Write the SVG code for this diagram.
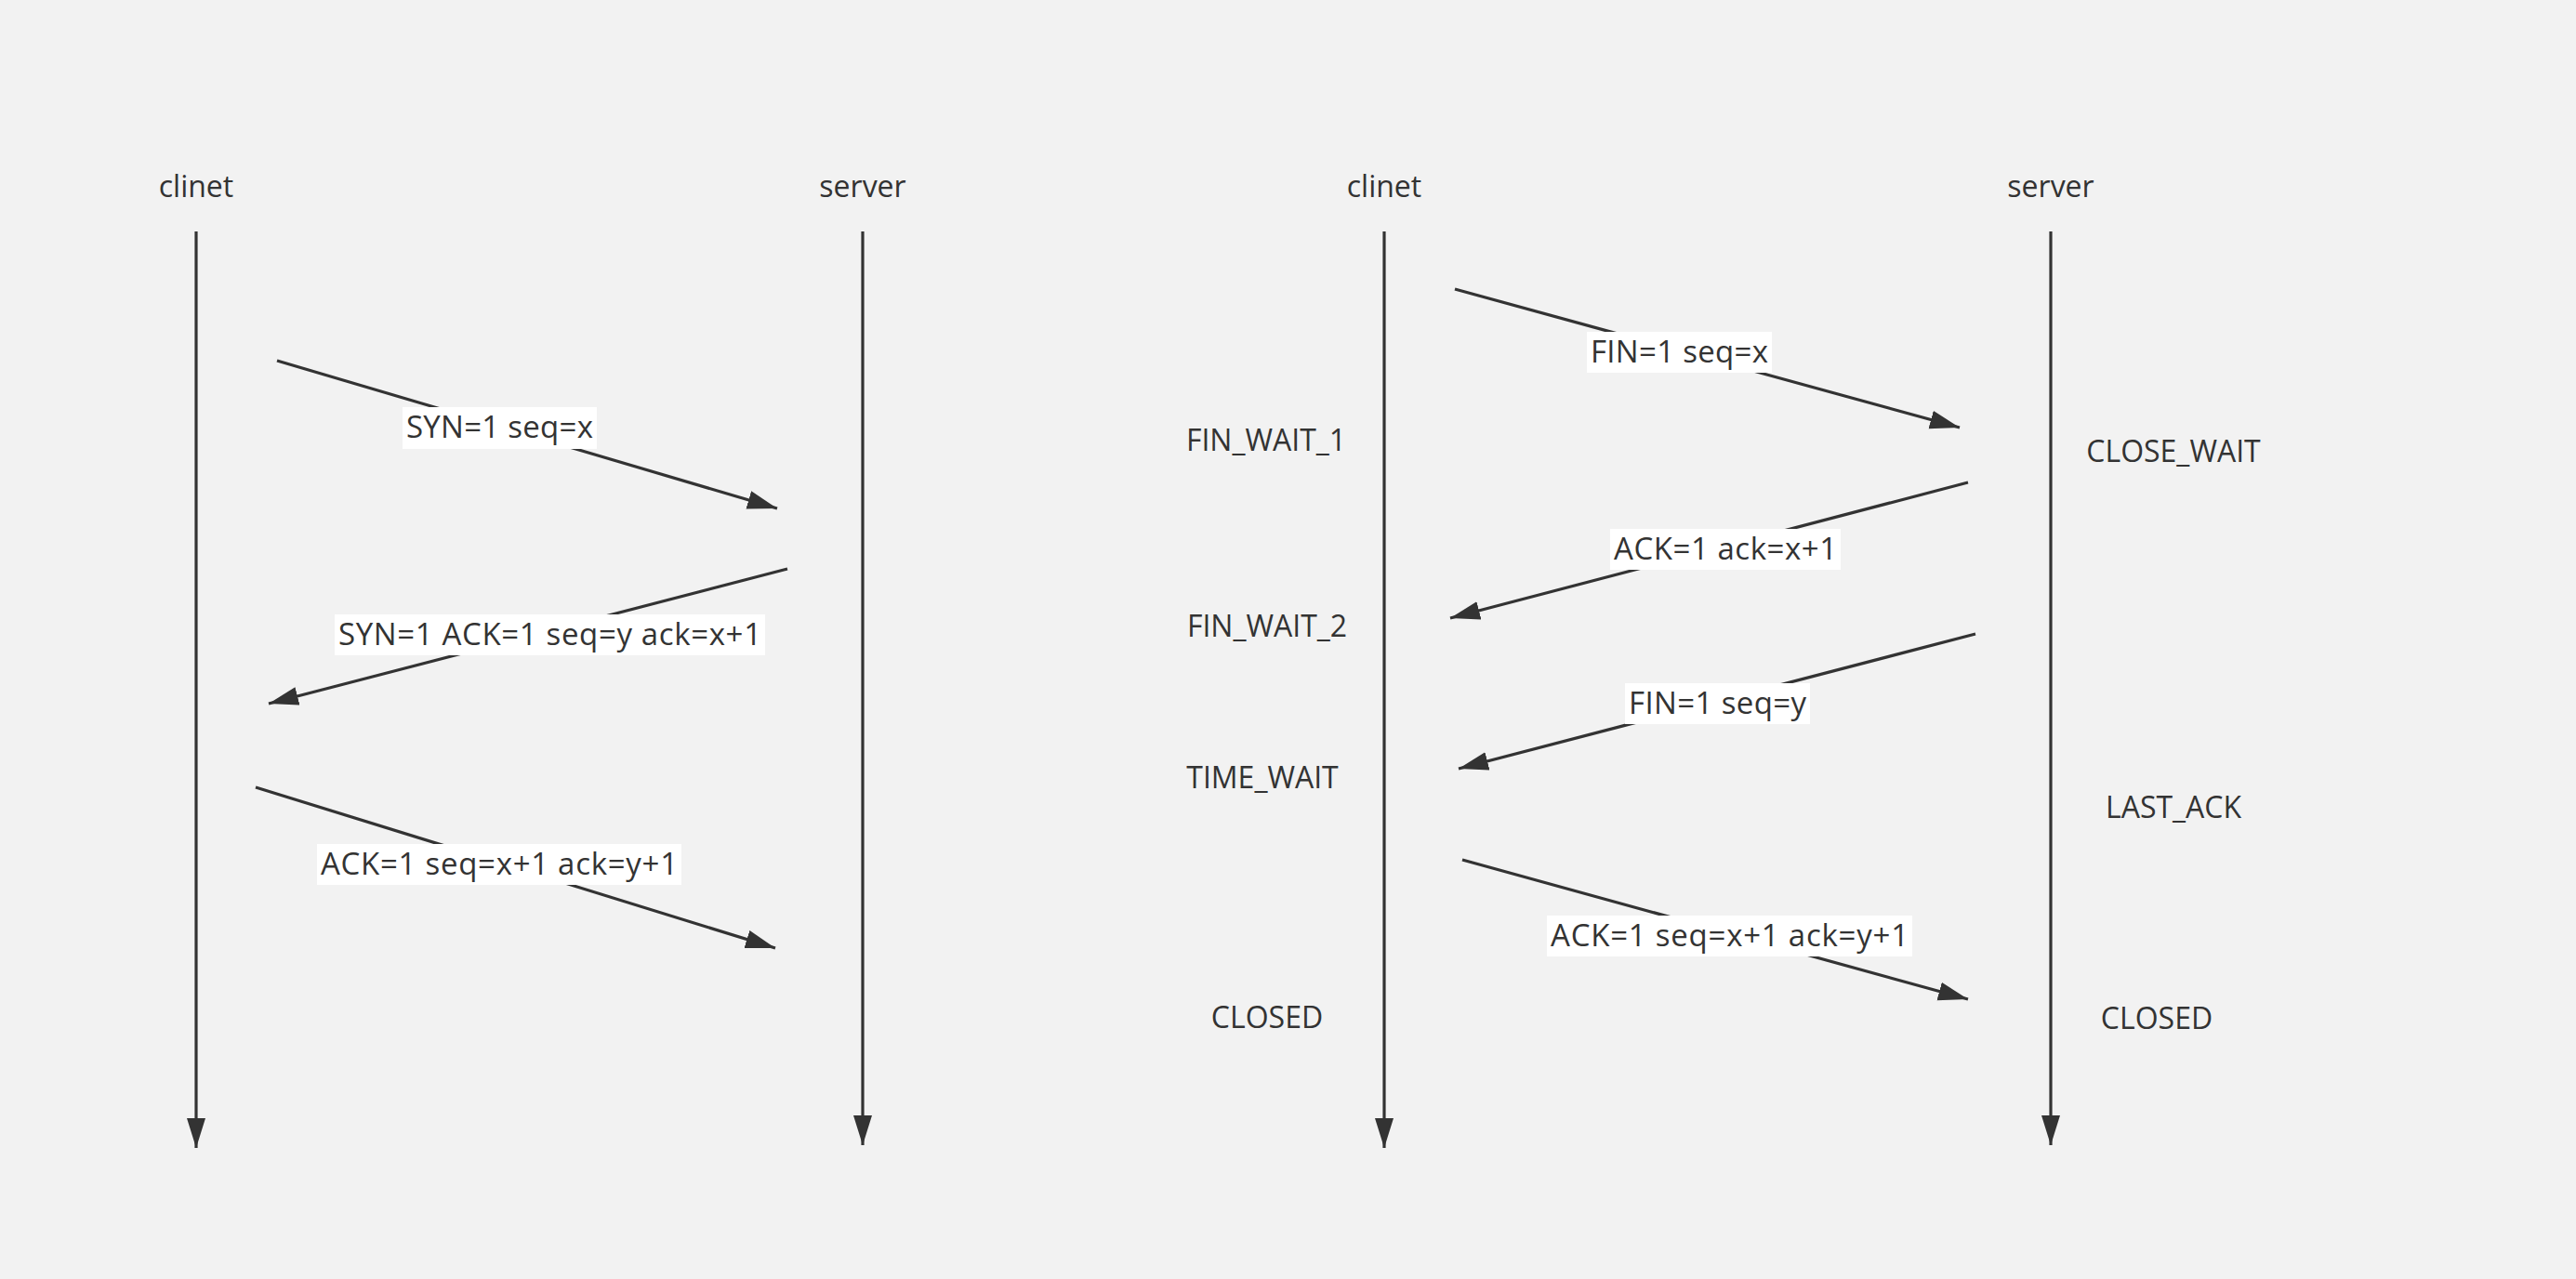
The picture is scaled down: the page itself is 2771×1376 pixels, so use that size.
<svg xmlns="http://www.w3.org/2000/svg" width="2771" height="1376" viewBox="0 0 2771 1376">
  <style>
    .t { font-family: "Open Sans", "Noto Sans", "Liberation Sans", sans-serif; font-size: 32px; fill: #333333; }
    .lt { font-size: 33px; }
    .c { text-anchor: middle; }
    .ln { stroke: #333333; stroke-width: 3.2; fill: none; }
    .lbg { fill: #ffffff; }
  </style>
  <defs>
    <marker id="ah" markerUnits="userSpaceOnUse" markerWidth="34" markerHeight="22" refX="32" refY="10" orient="auto" viewBox="0 0 34 22">
      <path d="M0,0 L32,10 L0,20 z" fill="#333333"/>
    </marker>
  </defs>
  <rect x="0" y="0" width="2771" height="1376" fill="#f2f2f2"/>

  <g id="lifelines">
    <g id="client1"><text class="t c" x="211" y="212">clinet</text><line class="ln" x1="211" y1="249" x2="211" y2="1235" marker-end="url(#ah)"/></g>
    <g id="server1"><text class="t c" x="928" y="212">server</text><line class="ln" x1="928" y1="249" x2="928" y2="1232" marker-end="url(#ah)"/></g>
    <g id="client2"><text class="t c" x="1489" y="212">clinet</text><line class="ln" x1="1489" y1="249" x2="1489" y2="1235" marker-end="url(#ah)"/></g>
    <g id="server2"><text class="t c" x="2206" y="212">server</text><line class="ln" x1="2206" y1="249" x2="2206" y2="1232" marker-end="url(#ah)"/></g>
  </g>

  <g id="states">
    <text class="t c" x="1362" y="485">FIN_WAIT_1</text>
    <text class="t c" x="1363" y="685">FIN_WAIT_2</text>
    <text class="t c" x="1358" y="848">TIME_WAIT</text>
    <text class="t c" x="1363" y="1106">CLOSED</text>
    <text class="t c" x="2338" y="497">CLOSE_WAIT</text>
    <text class="t c" x="2338" y="880">LAST_ACK</text>
    <text class="t c" x="2320" y="1107">CLOSED</text>
  </g>

  <g id="connectors">
    <g id="m1"><line class="ln" x1="298" y1="388" x2="836" y2="547" marker-end="url(#ah)"/>
      <rect class="lbg" x="433" y="438" width="209" height="45"/><text class="t lt c" x="537.5" y="471" textLength="201" lengthAdjust="spacing">SYN=1 seq=x</text></g>
    <g id="m2"><line class="ln" x1="847" y1="612" x2="289" y2="757" marker-end="url(#ah)"/>
      <rect class="lbg" x="360" y="661" width="463" height="44"/><text class="t lt c" x="591.5" y="694" textLength="455" lengthAdjust="spacing">SYN=1 ACK=1 seq=y ack=x+1</text></g>
    <g id="m3"><line class="ln" x1="275" y1="847" x2="834" y2="1020" marker-end="url(#ah)"/>
      <rect class="lbg" x="341" y="908" width="392" height="44"/><text class="t lt c" x="537" y="941" textLength="384" lengthAdjust="spacing">ACK=1 seq=x+1 ack=y+1</text></g>
    <g id="m4"><line class="ln" x1="1565" y1="311" x2="2108" y2="460" marker-end="url(#ah)"/>
      <rect class="lbg" x="1707" y="357" width="199" height="44"/><text class="t lt c" x="1806.5" y="390" textLength="191" lengthAdjust="spacing">FIN=1 seq=x</text></g>
    <g id="m5"><line class="ln" x1="2117" y1="519" x2="1560" y2="665" marker-end="url(#ah)"/>
      <rect class="lbg" x="1732" y="569" width="248" height="44"/><text class="t lt c" x="1856" y="602" textLength="240" lengthAdjust="spacing">ACK=1 ack=x+1</text></g>
    <g id="m6"><line class="ln" x1="2125" y1="682" x2="1569" y2="827" marker-end="url(#ah)"/>
      <rect class="lbg" x="1748" y="735" width="199" height="44"/><text class="t lt c" x="1847.5" y="768" textLength="191" lengthAdjust="spacing">FIN=1 seq=y</text></g>
    <g id="m7"><line class="ln" x1="1573" y1="925" x2="2117" y2="1075" marker-end="url(#ah)"/>
      <rect class="lbg" x="1664" y="985" width="393" height="44"/><text class="t lt c" x="1860.5" y="1018" textLength="385" lengthAdjust="spacing">ACK=1 seq=x+1 ack=y+1</text></g>
  </g>
</svg>
